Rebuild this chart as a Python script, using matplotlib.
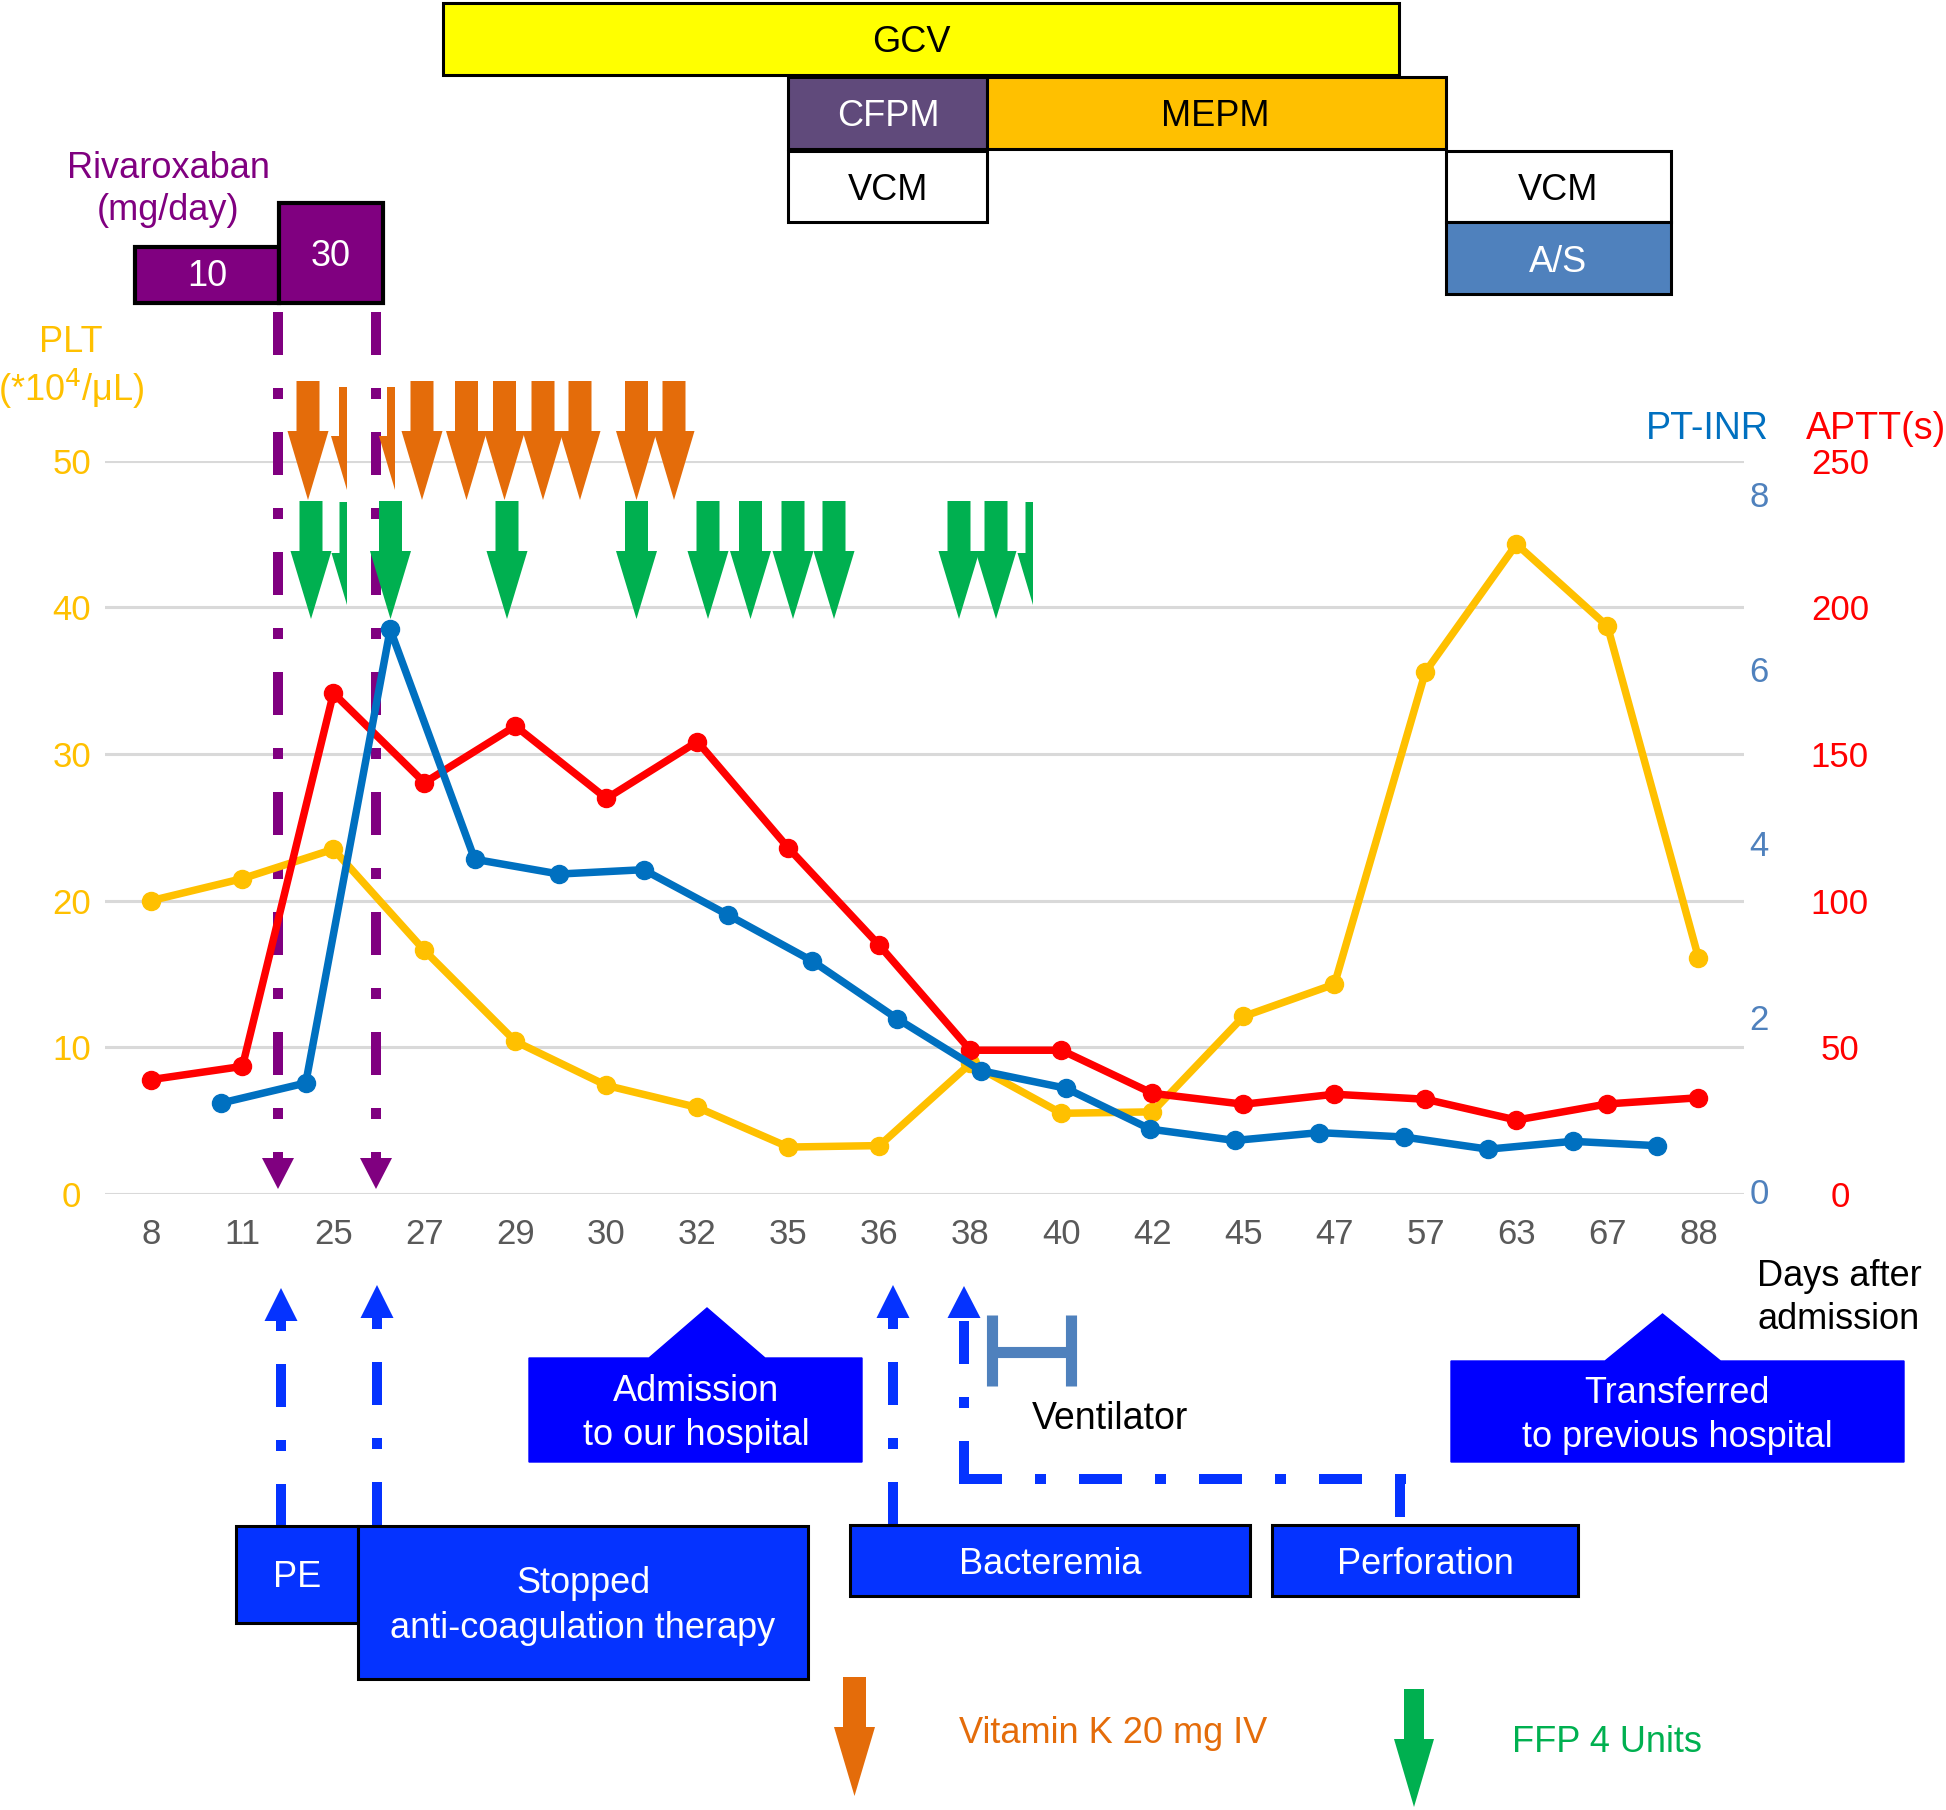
import numpy as np
import matplotlib
matplotlib.use("Agg")
import matplotlib.pyplot as plt
from matplotlib.patches import Polygon, Rectangle
from matplotlib.transforms import Affine2D

plt.rcParams['font.family'] = ['Liberation Sans', 'DejaVu Sans']

# days after admission (category axis)
days = ['8', '11', '25', '27', '29', '30', '32', '35', '36', '38',
        '40', '42', '45', '47', '57', '63', '67', '88']
# platelets (*10^4/uL)
plt_vals = [20.0, 21.5, 23.5, 16.6, 10.4, 7.4, 5.9, 3.2, 3.3, 8.9,
            5.5, 5.6, 12.1, 14.3, 35.6, 44.3, 38.7, 16.1]
# APTT (s)
aptt_vals = [39, 43.5, 170.7, 140.2, 159.5, 134.8, 154.2, 117.9, 84.7, 49,
             49, 34.3, 30.6, 34, 32.3, 25.2, 30.7, 32.8]
# PT-INR (own series, own category spacing)
inr_vals = [1.01, 1.24, 6.45, 3.81, 3.64, 3.69, 3.17, 2.64, 1.98, 1.38,
            1.18, 0.71, 0.58, 0.67, 0.62, 0.48, 0.57, 0.52]

plt_ticks = [0, 10, 20, 30, 40, 50]
aptt_ticks = [0, 50, 100, 150, 200, 250]
inr_ticks = [0, 2, 4, 6, 8]

YEL = '#FFC000'
RED = '#FF0000'
BLU = '#0070C0'
EVT = '#0533FF'
PUR = '#800080'
ORA = '#E46C0A'
GRN = '#00B050'

W, H = 1946, 1810
fig = plt.figure(figsize=(W / 100, H / 100), dpi=100)
# pixel coordinates (origin top-left) for the annotation drawing
px = Affine2D().scale(1 / W, -1 / H).translate(0, 1) + fig.transFigure

rect = [105 / W, 1 - 1194 / H, (1744 - 105) / W, (1194 - 460.5) / H]
ax = fig.add_axes(rect)
ax.patch.set_visible(False)
for s in ax.spines.values():
    s.set_visible(False)
ax.set_axisbelow(True)
ax.grid(axis='y', color='#D9D9D9', lw=2.2)
ax.plot(range(len(days)), plt_vals, color=YEL, lw=5.4, marker='o', ms=13, zorder=3)
ax.set_xticks(range(len(days)), days)
ax.set_yticks(plt_ticks)
ax.tick_params(axis='x', length=0, pad=17, labelsize=25, labelcolor='#595959')
ax.tick_params(axis='y', length=0, pad=24, labelsize=25, labelcolor=YEL)
for t in ax.get_yticklabels():
    t.set_ha('center')

ax_r = ax.twinx()
for s in ax_r.spines.values():
    s.set_visible(False)
ax_r.plot(range(len(days)), aptt_vals, color=RED, lw=5.4, marker='o', ms=13)
ax_r.set_ylim(0, 250)
ax_r.set_yticks(aptt_ticks)
ax_r.tick_params(axis='y', length=0, pad=69, labelsize=25, labelcolor=RED)
for t in ax_r.get_yticklabels():
    t.set_ha('center')

ax_b = fig.add_axes(rect, frameon=False)
ax_b.plot(np.arange(len(inr_vals)), inr_vals, color=BLU, lw=5.4, marker='o', ms=13)
ax_b.set_xlim(-1.377, 18.03)
ax_b.set_ylim(-0.035, 8.39)
ax_b.xaxis.set_visible(False)
ax_b.yaxis.tick_right()
ax_b.set_yticks(inr_ticks)
ax_b.tick_params(axis='y', length=0, pad=11, labelsize=25, labelcolor='#4F81BD')
for t in ax_b.get_yticklabels():
    t.set_ha('center')


def txt(x, y, s, size=26, color='black', ha='center'):
    ax.text(x, y + 3, s, transform=px, ha=ha, va='center', fontsize=size,
            color=color, zorder=6)


def box(x0, y0, x1, y1, fc, ec='black', lw=2.2):
    ax.add_patch(Rectangle((x0, y0), x1 - x0, y1 - y0, transform=px, clip_on=False,
                           fc=fc, ec=ec, lw=lw, zorder=4))


def poly(pts, fc, ec='none', lw=0, z=4):
    ax.add_patch(Polygon(pts, closed=True, transform=px, clip_on=False,
                         fc=fc, ec=ec, lw=lw, zorder=z))


def down_arrow(cx, top, neck, tip, shw, hhw, color, half=False):
    if half:
        pts = [(cx - shw, top), (cx, top), (cx, tip), (cx - hhw, neck), (cx - shw, neck)]
    else:
        pts = [(cx - shw, top), (cx + shw, top), (cx + shw, neck), (cx + hhw, neck),
               (cx, tip), (cx - hhw, neck), (cx - shw, neck)]
    poly(pts, color, z=2)


dashdot = (0, (4.3, 3.3, 1.1, 3.3))


def dline(xs, ys, color, ls=dashdot, lw=7.2):
    ax.plot(xs, ys, transform=px, clip_on=False, color=color, lw=lw, ls=ls,
            solid_capstyle='butt', dash_capstyle='butt', zorder=2)


# drug bars on top
box(443, 3, 1399, 75, '#FFFF00')
box(788, 77, 987, 149, '#604A7B')
box(987, 77, 1446, 149, '#FFC000')
box(788, 151, 987, 222, 'white')
box(1446, 151, 1671, 222, 'white')
box(1446, 222, 1671, 294, '#4F81BD')
txt(911, 40, 'GCV')
txt(888, 114, 'CFPM', color='white')
txt(1215, 114, 'MEPM')
txt(888, 187, 'VCM')
txt(1558, 187, 'VCM')
txt(1558, 259, 'A/S', color='white')

# rivaroxaban
txt(168, 165, 'Rivaroxaban', color=PUR)
txt(168, 208, '(mg/day)', color=PUR)
box(135, 247, 279, 303, PUR, lw=3)
box(279, 203, 383, 303, PUR, lw=3)
txt(207, 274, '10', size=26, color='white')
txt(331, 253, '30', size=26, color='white')
for x in (278, 376):
    dline([x, x], [312, 1158], PUR)
    poly([(x - 16, 1158), (x + 16, 1158), (x, 1189)], PUR, z=2)

# axis titles
txt(71, 340, 'PLT', color=YEL)
txt(71, 386, '(*10$^4$/μL)', color=YEL)
txt(1707, 426, 'PT-INR', size=27, color=BLU)
txt(1876, 426, 'APTT(s)', size=27, color=RED)
txt(1839, 1273, 'Days after', size=26)
txt(1839, 1316, 'admission', size=26)

# vitamin K and FFP arrows
for cx in [308, 422, 466.5, 504.5, 543, 580, 636.5, 674]:
    down_arrow(cx, 381, 431, 500, 11.5, 20.5, ORA)
for cx in [347, 395]:
    down_arrow(cx, 387, 436, 490, 8, 16, ORA, half=True)
for cx in [311, 390.5, 507, 636.5, 708, 750.5, 793, 834, 959, 996]:
    down_arrow(cx, 501, 551, 619, 11.5, 20.5, GRN)
for cx in [347, 1033]:
    down_arrow(cx, 502, 553, 605, 7.5, 15.5, GRN, half=True)

# clinical events (bottom)
for x, y0, y1 in [(281, 1527, 1321), (377, 1525, 1318), (893, 1525, 1318)]:
    dline([x, x], [y0, y1], EVT)
    poly([(x - 16.5, y1), (x + 16.5, y1), (x, y1 - 33)], EVT, z=2)
dline([964, 964], [1484, 1318], EVT)
poly([(947.5, 1318), (980.5, 1318), (964, 1286)], EVT, z=2)
dline([959, 1406], [1479, 1479], EVT)
dline([1400, 1400], [1474, 1517], EVT, ls='-')

box(236, 1526, 358, 1623, EVT)
box(358, 1526, 808, 1679, EVT)
box(850, 1525, 1250, 1596, EVT)
box(1272, 1525, 1578, 1596, EVT)
txt(297, 1574, 'PE', color='white')
txt(583, 1580, 'Stopped', color='white')
txt(583, 1625, 'anti-coagulation therapy', color='white')
txt(1050, 1561, 'Bacteremia', color='white')
txt(1425, 1561, 'Perforation', color='white')

poly([(529, 1358), (649, 1358), (707, 1308), (765, 1358), (862, 1358),
      (862, 1462), (529, 1462)], '#0000FF', ec='#0000FF', lw=1)
txt(696, 1388, 'Admission', color='white')
txt(696, 1432, 'to our hospital', color='white')
poly([(1451, 1361), (1605, 1361), (1662.5, 1314), (1720.5, 1361), (1904, 1361),
      (1904, 1462), (1451, 1462)], '#0000FF', ec='#0000FF', lw=1)
txt(1677, 1390, 'Transferred', color='white')
txt(1677, 1434, 'to previous hospital', color='white')

# ventilator bracket
for xs, ys in [([992, 992], [1315, 1386]), ([1071, 1071], [1315, 1386]),
               ([992, 1071], [1352, 1352])]:
    dline(xs, ys, '#4F81BD', ls='-', lw=8)
txt(1110, 1416, 'Ventilator', size=27)

# legend
down_arrow(854.5, 1677, 1727, 1796, 11.5, 20.5, ORA)
txt(959, 1730, 'Vitamin K 20 mg IV', size=26, color=ORA, ha='left')
down_arrow(1414, 1689, 1739, 1807, 10, 20, GRN)
txt(1512, 1739, 'FFP 4 Units', size=26, color=GRN, ha='left')

ax.set_xlim(-0.51, 17.5)
ax.set_ylim(0, 50)

fig.savefig('out.png', dpi=100)
